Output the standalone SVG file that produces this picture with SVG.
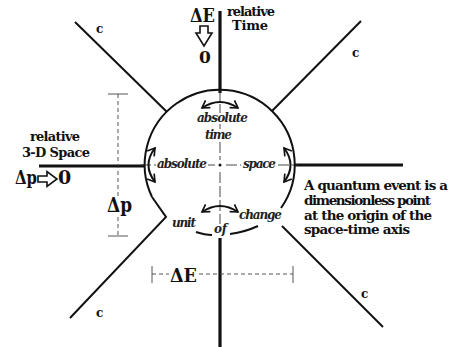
<svg xmlns="http://www.w3.org/2000/svg" width="450" height="347" viewBox="0 0 450 347">
<defs>
<marker id="open" viewBox="0 0 10 10" refX="8" refY="5" markerWidth="11" markerHeight="11" orient="auto-start-reverse" markerUnits="userSpaceOnUse">
<path d="M1.5,1 L8,5 L1.5,9" fill="none" stroke="#111" stroke-width="1.5"/>
</marker>
<style>
.t{font-family:"DejaVu Serif",serif;font-weight:bold;fill:#111}
.i{font-family:"DejaVu Serif",serif;font-weight:bold;font-style:italic;fill:#222;font-size:12px}
.axis{stroke:#111;stroke-width:3.2;fill:none}
.cl{stroke:#111;stroke-width:2;fill:none}
.thin{stroke:#333;stroke-width:0.9;fill:none;stroke-dasharray:11,3}
.dim{stroke:#444;stroke-width:0.9;fill:none;stroke-dasharray:4,3}
.tick{stroke:#444;stroke-width:0.9;fill:none}
.carr{stroke:#111;stroke-width:2;fill:none;marker-start:url(#open);marker-end:url(#open)}
.hollow{fill:#fff;stroke:#111;stroke-width:1.6}
</style>
</defs>

<g id="connectors">
  <line class="axis" x1="220" y1="11" x2="220" y2="93"/>
  <line class="axis" x1="220" y1="238" x2="220" y2="347"/>
  <line class="axis" x1="39" y1="166" x2="144" y2="166"/>
  <line class="axis" x1="295" y1="165" x2="403" y2="165"/>
  <line class="cl" x1="75" y1="22" x2="167" y2="112"/>
  <line class="cl" x1="361" y1="21" x2="272" y2="111"/>
  <path class="cl" d="M152,197 L166,217 L70,318"/>
  <line class="cl" x1="282" y1="226" x2="383" y2="327"/>
  <line class="thin" x1="220" y1="90" x2="220" y2="113"/>
  <line class="thin" x1="220" y1="124" x2="220" y2="129"/>
  <line class="thin" x1="220" y1="142" x2="220" y2="160"/>
  <line class="thin" x1="220" y1="172" x2="220" y2="224"/>
  <line class="thin" x1="140" y1="165" x2="156" y2="165"/>
  <line class="thin" x1="208" y1="165" x2="215" y2="165"/>
  <line class="thin" x1="226" y1="165" x2="241" y2="165"/>
  <line class="thin" x1="278" y1="165" x2="298" y2="165"/>
  <circle cx="220" cy="165" r="1.5" fill="#111"/>
  <line class="dim" x1="118" y1="94" x2="118" y2="198"/>
  <line class="dim" x1="118" y1="217" x2="118" y2="236"/>
  <line class="tick" x1="108" y1="94" x2="128" y2="94"/>
  <line class="tick" x1="108" y1="236" x2="128" y2="236"/>
  <line class="dim" x1="152" y1="274" x2="169" y2="274"/>
  <line class="dim" x1="199" y1="274" x2="293" y2="274"/>
  <line class="tick" x1="152" y1="266" x2="152" y2="283"/>
  <line class="tick" x1="293" y1="266" x2="293" y2="283"/>
  <polygon class="hollow" points="200,26 208,26 208,33 212,33 204,46 196,33 200,33"/>
  <polygon class="hollow" points="38,176 47,176 47,171.5 57,179 47,186.5 47,182 38,182"/>
</g>

<g id="circle">
  <path class="cl" d="M152,197 A75,75 0 1 1 281,208"/>
  <path class="cl" d="M196,232 Q205,235 212,235"/>
  <path class="cl" d="M230,234 Q245,232 258,226"/>
  <path class="carr" d="M202,108 Q220,96 238,108"/>
  <path class="carr" d="M202,212 Q220,200 238,212"/>
  <path class="carr" d="M155,148 Q142,165 155,182"/>
  <path class="carr" d="M284,148 Q297,165 284,182"/>
  <text class="i" x="197" y="122" textLength="51">absolute</text>
  <text class="i" x="205" y="139" textLength="27">time</text>
  <text class="i" x="157" y="168" textLength="50">absolute</text>
  <text class="i" x="243" y="168" textLength="33">space</text>
  <text class="i" x="172" y="227" textLength="24">unit</text>
  <text class="i" x="239" y="219" textLength="43">change</text>
  <text class="i" x="214" y="233" textLength="13">of</text>
</g>

<g id="time-label">
  <text class="t" x="190" y="22" font-size="19" textLength="25" lengthAdjust="spacingAndGlyphs">ΔE</text>
  <text class="t" x="199" y="63" font-size="17">0</text>
  <text class="t" x="227" y="16" font-size="13" textLength="48">relative</text>
  <text class="t" x="232" y="30" font-size="13" textLength="36">Time</text>
</g>

<g id="space-label">
  <text class="t" x="30" y="141" font-size="13" textLength="50">relative</text>
  <text class="t" x="22" y="157" font-size="13" textLength="68">3-D Space</text>
  <text class="t" x="15" y="184" font-size="19" textLength="22" lengthAdjust="spacingAndGlyphs">Δp</text>
  <text class="t" x="58" y="184" font-size="19">0</text>
</g>

<g id="dimension-labels">
  <text class="t" x="107" y="212" font-size="20" font-weight="normal" textLength="25" lengthAdjust="spacingAndGlyphs">Δp</text>
  <text class="t" x="170" y="282" font-size="19" textLength="27" lengthAdjust="spacingAndGlyphs">ΔE</text>
</g>

<g id="c-labels">
  <text class="t" x="96" y="33" font-size="12">c</text>
  <text class="t" x="352" y="57" font-size="12">c</text>
  <text class="t" x="96" y="317" font-size="12">c</text>
  <text class="t" x="361" y="298" font-size="12">c</text>
</g>

<g id="note">
  <text class="t" font-size="13.5">
    <tspan x="304" y="190" textLength="144">A quantum event is a</tspan>
    <tspan x="304" y="205" textLength="127">dimensionless point</tspan>
    <tspan x="304" y="219.5" textLength="128">at the origin of the</tspan>
    <tspan x="304" y="234" textLength="106">space-time axis</tspan>
  </text>
</g>
</svg>
